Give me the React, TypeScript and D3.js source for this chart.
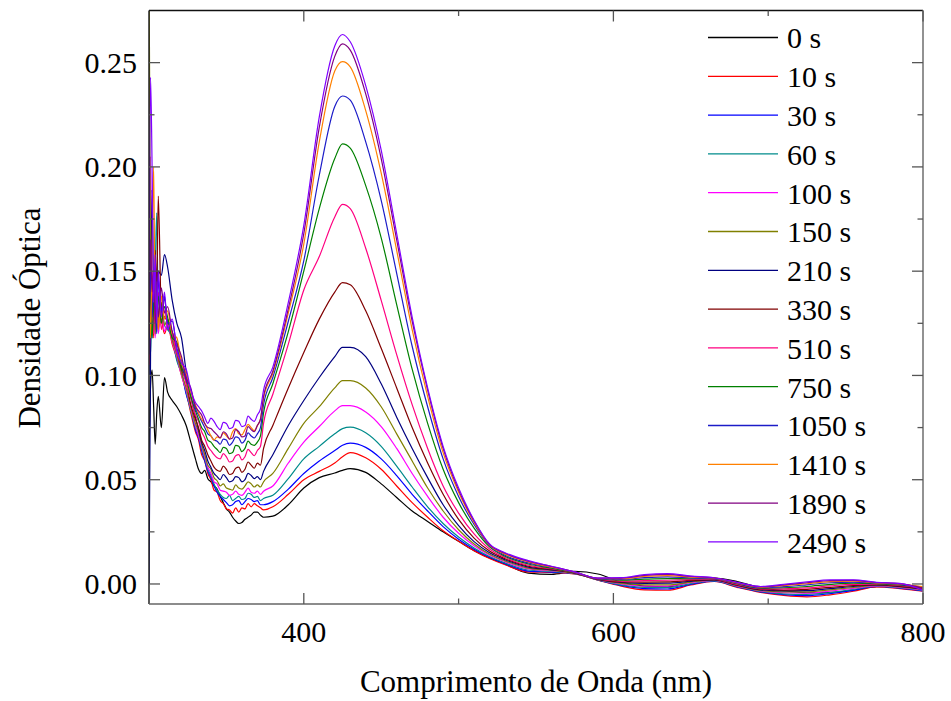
import React from "react";
import * as d3 from "d3";

const wavelengths = [
  300, 301, 302, 303, 304, 305, 306, 308, 310, 312, 315, 318, 321, 324, 327,
  330, 332, 334, 336, 338, 340, 342, 344, 346, 348, 350, 352, 354, 356, 358, 360, 362, 364, 366, 368, 370, 372, 374,
  380, 390, 400, 410, 420, 425, 430, 440, 450, 460, 470, 480, 490, 500, 510, 520,
  530, 545, 560, 575, 590, 605, 620, 635, 650, 665, 680, 695, 710, 725, 740, 755, 770, 785, 800,
];

const s0 = [
  0.060, 0.095, 0.1026, 0.085, 0.067, 0.082, 0.090, 0.075, 0.099, 0.092, 0.088, 0.085, 0.081, 0.076, 0.068,
  0.060, 0.055, 0.053, 0.0545, 0.0505, 0.049, 0.047, 0.0455, 0.042, 0.039, 0.036, 0.0345, 0.032, 0.0302, 0.029, 0.0295, 0.031, 0.032, 0.033, 0.0345, 0.0345, 0.033, 0.032,
  0.0325, 0.0380, 0.0460, 0.0510, 0.0532, 0.0545, 0.0553, 0.0535, 0.0480, 0.0415, 0.0350, 0.0300, 0.0250, 0.0205, 0.0160, 0.0125,
  0.0095, 0.0052, 0.0046, 0.0060, 0.0048, 0.0008, -0.0010, -0.0014, 0.0012, 0.0028, 0.0012, -0.0018, -0.0032, -0.0042, -0.0040, -0.0030, -0.0013, -0.0012, -0.0022,
];
const s10 = [
  0.110, 0.125, 0.138, 0.118, 0.135, 0.122, 0.130, 0.127, 0.120, 0.124, 0.115, 0.108, 0.100, 0.092, 0.082,
  0.073, 0.069, 0.062, 0.059, 0.053, 0.050, 0.045, 0.044, 0.040, 0.0385, 0.036, 0.0355, 0.034, 0.0365, 0.0345, 0.0365, 0.036, 0.0385, 0.037, 0.0385, 0.0375, 0.0365, 0.0355,
  0.0370, 0.0430, 0.0500, 0.0540, 0.0580, 0.0610, 0.0630, 0.0605, 0.0550, 0.0470, 0.0390, 0.0320, 0.0255, 0.0205, 0.0160, 0.0122,
  0.0092, 0.0058, 0.0055, 0.0048, 0.0018, -0.0010, -0.0028, -0.0030, -0.0005, 0.0012, -0.0016, -0.0040, -0.0055, -0.0062, -0.0052, -0.0035, -0.0014, -0.0022, -0.0035,
];
const s30 = [
  0.100, 0.130, 0.118, 0.150, 0.128, 0.140, 0.124, 0.130, 0.138, 0.123, 0.119, 0.108, 0.102, 0.091, 0.084,
  0.074, 0.070, 0.064, 0.059, 0.054, 0.051, 0.047, 0.044, 0.042, 0.0405, 0.039, 0.0375, 0.038, 0.0395, 0.040, 0.038, 0.0395, 0.041, 0.0405, 0.0395, 0.040, 0.038, 0.038,
  0.0395, 0.0455, 0.0530, 0.0590, 0.0640, 0.0665, 0.0675, 0.0655, 0.0600, 0.0520, 0.0430, 0.0350, 0.0275, 0.0215, 0.0167, 0.0128,
  0.0097, 0.0062, 0.0057, 0.0049, 0.0019, -0.0007, -0.0022, -0.0024, -0.0002, 0.0013, -0.0014, -0.0038, -0.0051, -0.0056, -0.0046, -0.0031, -0.0012, -0.0020, -0.0033,
];
const s60 = [
  0.125, 0.110, 0.140, 0.125, 0.150, 0.178, 0.128, 0.134, 0.124, 0.122, 0.118, 0.107, 0.101, 0.092, 0.083,
  0.075, 0.071, 0.065, 0.060, 0.055, 0.052, 0.048, 0.045, 0.043, 0.0415, 0.041, 0.0425, 0.040, 0.041, 0.042, 0.0405, 0.041, 0.0435, 0.043, 0.0415, 0.042, 0.040, 0.041,
  0.0425, 0.0505, 0.0600, 0.0660, 0.0720, 0.0745, 0.0752, 0.0725, 0.0660, 0.0565, 0.0465, 0.0370, 0.0290, 0.0225, 0.0173, 0.0132,
  0.0101, 0.0067, 0.0060, 0.0050, 0.0020, -0.0004, -0.0016, -0.0017, 0.0002, 0.0015, -0.0012, -0.0036, -0.0047, -0.0050, -0.0041, -0.0026, -0.0010, -0.0018, -0.0031,
];
const s100 = [
  0.115, 0.205, 0.125, 0.140, 0.118, 0.132, 0.120, 0.133, 0.121, 0.125, 0.116, 0.109, 0.100, 0.093, 0.084,
  0.076, 0.071, 0.066, 0.061, 0.056, 0.053, 0.049, 0.048, 0.045, 0.0445, 0.044, 0.0425, 0.043, 0.0445, 0.043, 0.0425, 0.044, 0.046, 0.044, 0.0435, 0.0445, 0.043, 0.0445,
  0.0470, 0.0580, 0.0680, 0.0755, 0.0830, 0.0855, 0.0855, 0.0825, 0.0755, 0.0650, 0.0530, 0.0420, 0.0320, 0.0243, 0.0183, 0.0138,
  0.0107, 0.0072, 0.0063, 0.0051, 0.0021, 0.0000, -0.0010, -0.0010, 0.0006, 0.0017, -0.0010, -0.0033, -0.0042, -0.0044, -0.0034, -0.0021, -0.0009, -0.0016, -0.0029,
];
const s150 = [
  0.300, 0.150, 0.132, 0.145, 0.120, 0.138, 0.125, 0.135, 0.124, 0.127, 0.117, 0.110, 0.101, 0.094, 0.085,
  0.077, 0.073, 0.067, 0.062, 0.057, 0.055, 0.051, 0.0495, 0.047, 0.048, 0.046, 0.0455, 0.045, 0.0475, 0.046, 0.0455, 0.047, 0.049, 0.048, 0.0465, 0.0475, 0.0465, 0.049,
  0.0530, 0.0650, 0.0770, 0.0850, 0.0940, 0.0975, 0.0975, 0.0940, 0.0850, 0.0720, 0.0590, 0.0460, 0.0350, 0.0260, 0.0192, 0.0143,
  0.0111, 0.0076, 0.0065, 0.0051, 0.0021, 0.0003, -0.0004, -0.0004, 0.0009, 0.0018, -0.0008, -0.0031, -0.0038, -0.0038, -0.0028, -0.0017, -0.0007, -0.0014, -0.0027,
];
const s210 = [
  0.000, 0.110, 0.189, 0.140, 0.155, 0.135, 0.150, 0.148, 0.158, 0.152, 0.136, 0.125, 0.118, 0.102, 0.090,
  0.080, 0.074, 0.068, 0.064, 0.059, 0.056, 0.053, 0.0515, 0.050, 0.0525, 0.051, 0.049, 0.0495, 0.0515, 0.051, 0.049, 0.050, 0.053, 0.052, 0.0505, 0.0515, 0.050, 0.054,
  0.0620, 0.0760, 0.0880, 0.0990, 0.1090, 0.1135, 0.1135, 0.1090, 0.0960, 0.0800, 0.0650, 0.0510, 0.0380, 0.0280, 0.0203, 0.0150,
  0.0116, 0.0081, 0.0068, 0.0052, 0.0022, 0.0007, 0.0003, 0.0004, 0.0013, 0.0020, -0.0006, -0.0028, -0.0033, -0.0032, -0.0022, -0.0012, -0.0005, -0.0012, -0.0025,
];
const s330 = [
  0.118, 0.135, 0.150, 0.128, 0.160, 0.140, 0.186, 0.130, 0.128, 0.126, 0.121, 0.112, 0.103, 0.097, 0.086,
  0.079, 0.075, 0.069, 0.066, 0.062, 0.059, 0.056, 0.0545, 0.054, 0.0565, 0.055, 0.0525, 0.053, 0.0555, 0.056, 0.0535, 0.055, 0.0585, 0.057, 0.0555, 0.058, 0.057, 0.065,
  0.0760, 0.0940, 0.1110, 0.1270, 0.1400, 0.1445, 0.1435, 0.1310, 0.1130, 0.0940, 0.0750, 0.0580, 0.0430, 0.0310, 0.0220, 0.0158,
  0.0121, 0.0085, 0.0070, 0.0053, 0.0023, 0.0010, 0.0009, 0.0010, 0.0017, 0.0021, -0.0004, -0.0026, -0.0029, -0.0026, -0.0016, -0.0008, -0.0003, -0.0010, -0.0023,
];
const s510 = [
  0.105, 0.130, 0.145, 0.120, 0.138, 0.126, 0.140, 0.122, 0.131, 0.124, 0.119, 0.111, 0.105, 0.096, 0.089,
  0.081, 0.078, 0.073, 0.070, 0.066, 0.064, 0.062, 0.0605, 0.060, 0.0625, 0.061, 0.0585, 0.059, 0.0615, 0.062, 0.0595, 0.061, 0.0645, 0.063, 0.0615, 0.064, 0.066, 0.077,
  0.0910, 0.1150, 0.1410, 0.1570, 0.1760, 0.1820, 0.1800, 0.1610, 0.1360, 0.1100, 0.0860, 0.0650, 0.0470, 0.0340, 0.0240, 0.0168,
  0.0127, 0.0090, 0.0073, 0.0054, 0.0024, 0.0014, 0.0016, 0.0018, 0.0021, 0.0023, -0.0002, -0.0023, -0.0023, -0.0019, -0.0009, -0.0002, -0.0001, -0.0007, -0.0020,
];
const s750 = [
  0.125, 0.140, 0.118, 0.135, 0.150, 0.130, 0.138, 0.125, 0.133, 0.128, 0.118, 0.116, 0.104, 0.099, 0.090,
  0.083, 0.079, 0.075, 0.073, 0.069, 0.068, 0.066, 0.0645, 0.063, 0.0655, 0.065, 0.0625, 0.063, 0.0665, 0.066, 0.0635, 0.065, 0.0685, 0.067, 0.0665, 0.068, 0.071, 0.082,
  0.0960, 0.1210, 0.1500, 0.1800, 0.2040, 0.2110, 0.2090, 0.1910, 0.1660, 0.1340, 0.1030, 0.0770, 0.0550, 0.0390, 0.0268, 0.0178,
  0.0133, 0.0096, 0.0076, 0.0055, 0.0025, 0.0018, 0.0023, 0.0026, 0.0025, 0.0025, 0.0001, -0.0020, -0.0018, -0.0012, -0.0002, 0.0004, 0.0001, -0.0005, -0.0018,
];
const s1050 = [
  0.110, 0.150, 0.128, 0.142, 0.135, 0.120, 0.146, 0.131, 0.137, 0.125, 0.126, 0.113, 0.107, 0.098, 0.093,
  0.084, 0.081, 0.078, 0.075, 0.072, 0.071, 0.069, 0.0685, 0.067, 0.0695, 0.069, 0.0665, 0.068, 0.0705, 0.070, 0.0675, 0.069, 0.0725, 0.071, 0.070, 0.072, 0.075, 0.086,
  0.0990, 0.1260, 0.1550, 0.1960, 0.2290, 0.2340, 0.2320, 0.2120, 0.1840, 0.1490, 0.1140, 0.0850, 0.0600, 0.0420, 0.0285, 0.0183,
  0.0138, 0.0101, 0.0079, 0.0056, 0.0026, 0.0022, 0.0030, 0.0034, 0.0029, 0.0026, 0.0003, -0.0018, -0.0013, -0.0004, 0.0006, 0.0009, 0.0004, -0.0002, -0.0015,
];
const s1410 = [
  0.150, 0.118, 0.160, 0.200, 0.128, 0.140, 0.122, 0.138, 0.127, 0.131, 0.120, 0.118, 0.106, 0.101, 0.092,
  0.086, 0.082, 0.079, 0.077, 0.074, 0.071, 0.069, 0.0705, 0.070, 0.0725, 0.071, 0.0695, 0.073, 0.0745, 0.072, 0.0715, 0.074, 0.0765, 0.075, 0.0735, 0.076, 0.079, 0.089,
  0.1010, 0.1300, 0.1630, 0.2120, 0.2460, 0.2505, 0.2480, 0.2270, 0.1970, 0.1600, 0.1220, 0.0900, 0.0630, 0.0440, 0.0295, 0.0186,
  0.0143, 0.0106, 0.0081, 0.0057, 0.0027, 0.0025, 0.0036, 0.0040, 0.0033, 0.0028, 0.0005, -0.0015, -0.0008, 0.0001, 0.0011, 0.0013, 0.0005, 0.0000, -0.0013,
];
const s1890 = [
  0.120, 0.165, 0.140, 0.150, 0.125, 0.145, 0.128, 0.142, 0.130, 0.133, 0.121, 0.115, 0.109, 0.099, 0.094,
  0.085, 0.083, 0.081, 0.077, 0.075, 0.0745, 0.073, 0.0715, 0.070, 0.073, 0.072, 0.0695, 0.070, 0.074, 0.073, 0.0705, 0.071, 0.0755, 0.074, 0.073, 0.076, 0.079, 0.090,
  0.1020, 0.1320, 0.1680, 0.2190, 0.2530, 0.2590, 0.2560, 0.2350, 0.2040, 0.1650, 0.1260, 0.0930, 0.0650, 0.0450, 0.0302, 0.0189,
  0.0147, 0.0109, 0.0084, 0.0058, 0.0028, 0.0028, 0.0041, 0.0046, 0.0036, 0.0029, 0.0007, -0.0013, -0.0005, 0.0006, 0.0016, 0.0017, 0.0007, 0.0002, -0.0020,
];
const s2490 = [
  0.140, 0.243, 0.200, 0.135, 0.158, 0.125, 0.150, 0.128, 0.140, 0.122, 0.127, 0.112, 0.106, 0.103, 0.093,
  0.087, 0.085, 0.083, 0.080, 0.077, 0.0795, 0.078, 0.0755, 0.074, 0.0775, 0.077, 0.0745, 0.075, 0.0785, 0.078, 0.0755, 0.076, 0.0805, 0.079, 0.078, 0.081, 0.084, 0.093,
  0.1040, 0.1350, 0.1720, 0.2240, 0.2580, 0.2635, 0.2600, 0.2390, 0.2080, 0.1680, 0.1280, 0.0940, 0.0660, 0.0460, 0.0306, 0.0192,
  0.0150, 0.0112, 0.0085, 0.0058, 0.0028, 0.0030, 0.0045, 0.0050, 0.0038, 0.0030, 0.0008, -0.0012, -0.0002, 0.0010, 0.0020, 0.0020, 0.0008, 0.0003, -0.0030,
];

const seriesLabels = ["0 s", "10 s", "30 s", "60 s", "100 s", "150 s", "210 s", "330 s", "510 s", "750 s", "1050 s", "1410 s", "1890 s", "2490 s"];
const seriesValues = [s0, s10, s30, s60, s100, s150, s210, s330, s510, s750, s1050, s1410, s1890, s2490];
const seriesColors = [
  "#000000", "#ff0000", "#0000ff", "#008b8b", "#ff00ff", "#808000", "#000080",
  "#800000", "#ff0080", "#008000", "#1c1cc8", "#ff8000", "#800080", "#8000ff",
];

const yTicks = [0, 0.05, 0.1, 0.15, 0.2, 0.25];
const yMinorTicks = [0.025, 0.075, 0.125, 0.175, 0.225];
const xTicks = [400, 600, 800];
const xMinorTicks = [500, 700];

const FONT = '"Liberation Serif", "DejaVu Serif", "Times New Roman", Times, serif';
const textStyle = { fontFamily: FONT };

export default function App() {
  const W = 951;
  const H = 701;
  const left = 149;
  const right = 923;
  const top = 10.5;
  const bottom = 604;

  const x = d3.scaleLinear().domain([300, 800]).range([left, right]);
  const y = d3.scaleLinear().domain([-0.0096, 0.275]).range([bottom, top]);

  const line = d3
    .line<number>()
    .x((_, i) => x(wavelengths[i]))
    .y((d) => y(d))
    .curve(d3.curveMonotoneX);

  const majorLen = 11;
  const minorLen = 5.5;
  const legendX1 = 708;
  const legendX2 = 778;
  const legendY0 = 37.5;
  const legendStep = 38.8;

  return (
    <svg
      width={W}
      height={H}
      style={{ position: "absolute", left: 0, top: 0, background: "#fff", fontFamily: FONT }}
    >
      <defs>
        <clipPath id="plotClip">
          <rect x={left} y={top} width={right - left} height={bottom - top} />
        </clipPath>
      </defs>
      <rect x={0} y={0} width={W} height={H} fill="#fff" />

      <g clipPath="url(#plotClip)">
        {seriesValues.map((vals, k) => (
          <path
            key={seriesLabels[k]}
            d={line(vals) || ""}
            fill="none"
            stroke={seriesColors[k]}
            strokeWidth={1.2}
            strokeLinejoin="round"
          />
        ))}
      </g>

      {/* frame */}
      <line x1={left} y1={top} x2={right} y2={top} stroke="#111" strokeWidth={1.5} />
      <line x1={left} y1={top} x2={left} y2={bottom} stroke="#222" strokeWidth={1.5} />
      <line x1={right} y1={top} x2={right} y2={bottom} stroke="#777" strokeWidth={1.6} />
      <line x1={left} y1={bottom} x2={right} y2={bottom} stroke="#666" strokeWidth={1.6} />

      {/* y ticks */}
      {yTicks.map((t) => (
        <g key={"yt" + t}>
          <line x1={left} x2={left + majorLen} y1={y(t)} y2={y(t)} stroke="#555" strokeWidth={1.3} />
          <line x1={right} x2={right - majorLen} y1={y(t)} y2={y(t)} stroke="#555" strokeWidth={1.3} />
          <text x={137} y={y(t)} dy="0.34em" textAnchor="end" fontSize={30} fill="#000" style={textStyle}>
            {d3.format(".2f")(t)}
          </text>
        </g>
      ))}
      {yMinorTicks.map((t) => (
        <g key={"ym" + t}>
          <line x1={left} x2={left + minorLen} y1={y(t)} y2={y(t)} stroke="#555" strokeWidth={1.3} />
          <line x1={right} x2={right - minorLen} y1={y(t)} y2={y(t)} stroke="#555" strokeWidth={1.3} />
        </g>
      ))}

      {/* x ticks */}
      {xTicks.map((t) => (
        <g key={"xt" + t}>
          <line x1={x(t)} x2={x(t)} y1={bottom} y2={bottom - majorLen} stroke="#555" strokeWidth={1.3} />
          <line x1={x(t)} x2={x(t)} y1={top} y2={top + majorLen} stroke="#555" strokeWidth={1.3} />
          <text x={x(t)} y={641.5} textAnchor="middle" fontSize={30} fill="#000" style={textStyle}>
            {t}
          </text>
        </g>
      ))}
      {xMinorTicks.map((t) => (
        <g key={"xm" + t}>
          <line x1={x(t)} x2={x(t)} y1={bottom} y2={bottom - minorLen} stroke="#555" strokeWidth={1.3} />
          <line x1={x(t)} x2={x(t)} y1={top} y2={top + minorLen} stroke="#555" strokeWidth={1.3} />
        </g>
      ))}

      {/* axis titles */}
      <text x={536} y={692} textAnchor="middle" fontSize={31} fill="#000" style={textStyle}>
        Comprimento de Onda (nm)
      </text>
      <text
        transform={`translate(40,318) rotate(-90)`}
        textAnchor="middle"
        fontSize={31}
        fill="#000"
        style={textStyle}
      >
        Densidade Óptica
      </text>

      {/* legend */}
      {seriesLabels.map((lab, k) => {
        const ly = legendY0 + k * legendStep;
        return (
          <g key={"lg" + lab}>
            <line x1={legendX1} x2={legendX2} y1={ly} y2={ly} stroke={seriesColors[k]} strokeWidth={1.3} />
            <text x={787} y={ly} dy="0.36em" fontSize={30} fill="#000" style={textStyle}>
              {lab}
            </text>
          </g>
        );
      })}
    </svg>
  );
}
